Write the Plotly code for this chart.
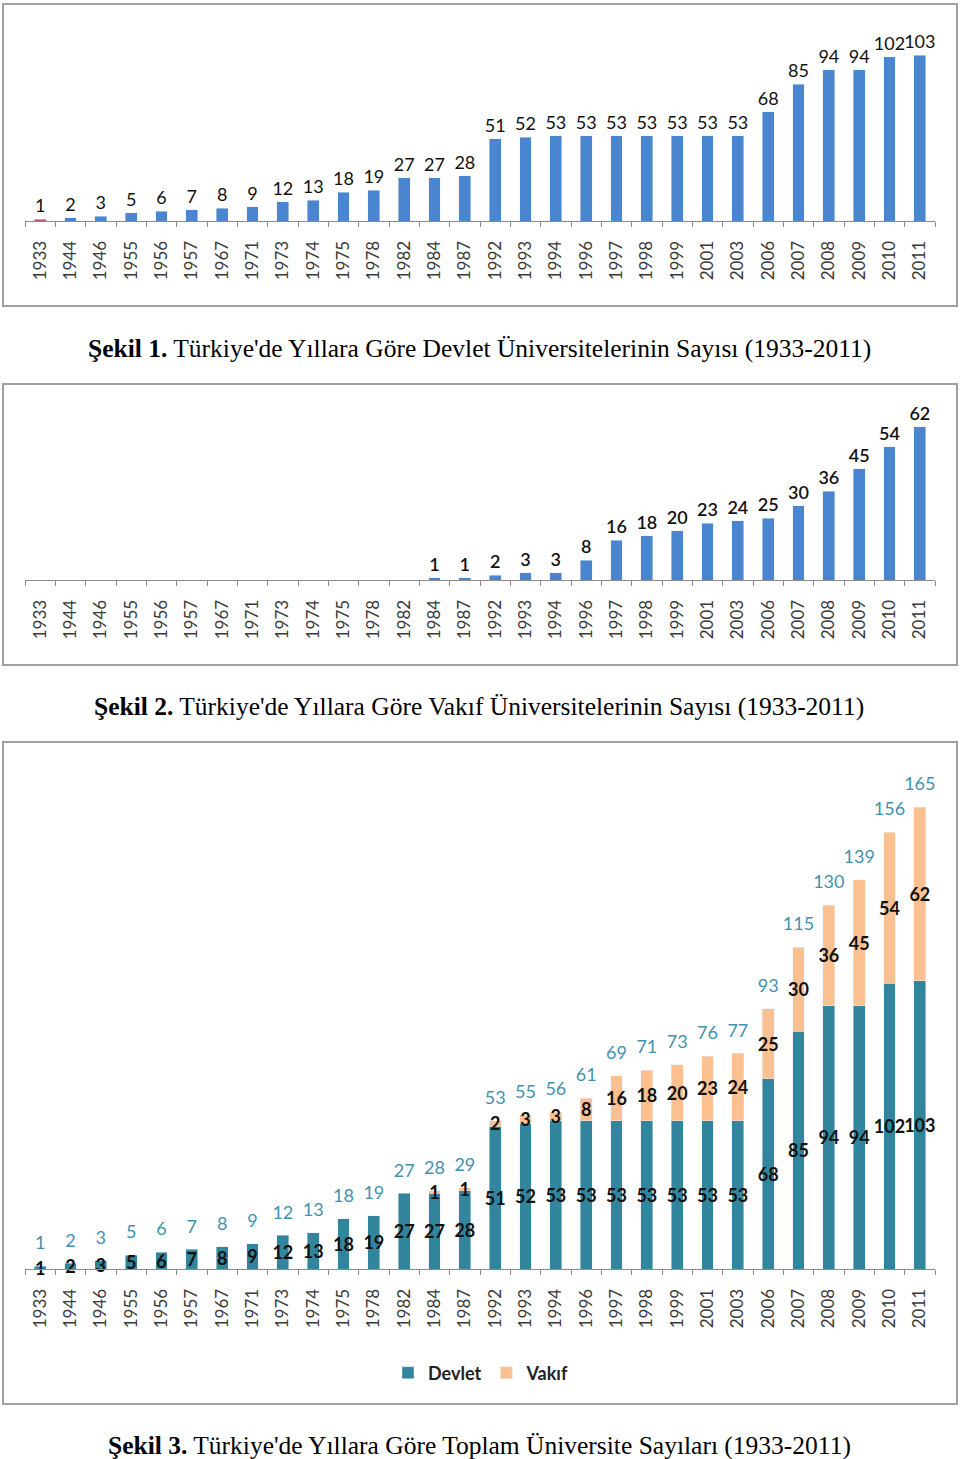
import plotly.graph_objects as go

# ---------------- data ----------------
years = ["1933", "1944", "1946", "1955", "1956", "1957", "1967", "1971", "1973", "1974",
         "1975", "1978", "1982", "1984", "1987", "1992", "1993", "1994", "1996", "1997",
         "1998", "1999", "2001", "2003", "2006", "2007", "2008", "2009", "2010", "2011"]
devlet = [1, 2, 3, 5, 6, 7, 8, 9, 12, 13, 18, 19, 27, 27, 28, 51, 52, 53, 53, 53,
          53, 53, 53, 53, 68, 85, 94, 94, 102, 103]
vakif = [None] * 13 + [1, 1, 2, 3, 3, 8, 16, 18, 20, 23, 24, 25, 30, 36, 45, 54, 62]
toplam = [d + (v or 0) for d, v in zip(devlet, vakif)]

captions = [
    ("Şekil 1.", "Türkiye'de Yıllara Göre Devlet Üniversitelerinin Sayısı (1933-2011)"),
    ("Şekil 2.", "Türkiye'de Yıllara Göre Vakıf Üniversitelerinin Sayısı (1933-2011)"),
    ("Şekil 3.", "Türkiye'de Yıllara Göre Toplam Üniversite Sayıları (1933-2011)"),
]

# ---------------- layout helpers ----------------
W, H = 960, 1459


def py(y):
    return 1 - y / H


def px(x):
    return x / W


BLUE = "#4A86D0"
RED = "#C0504D"
TEAL = "#31859C"
PEACH = "#FAC090"
TOTAL_TXT = "#3F93AE"
FONT = "Lato"

fig = go.Figure()

# Panel 1
fig.add_trace(go.Bar(
    x=years, y=devlet, xaxis="x", yaxis="y", showlegend=False,
    marker_color=[RED] + [BLUE] * (len(years) - 1),
    text=devlet, textposition="outside", cliponaxis=False, textangle=0,
    textfont=dict(family=FONT, size=18, color="#111111"),
))

# Panel 2
fig.add_trace(go.Bar(
    x=years, y=vakif, xaxis="x2", yaxis="y2", showlegend=False,
    marker_color=BLUE,
    text=[("" if v is None else v) for v in vakif], textposition="outside",
    cliponaxis=False, textangle=0,
    textfont=dict(family=FONT, size=18, color="#111111", weight=600),
))

# Panel 3
fig.add_trace(go.Bar(
    x=years, y=devlet, xaxis="x3", yaxis="y3", name="Devlet",
    marker_color=TEAL, text=devlet, textposition="inside",
    insidetextanchor="middle", textangle=0, cliponaxis=False,
    textfont=dict(family=FONT, size=18, color="#111111", weight="bold"),
))
fig.add_trace(go.Bar(
    x=years, y=vakif, xaxis="x3", yaxis="y3", name="Vakıf",
    marker_color=PEACH, text=[("" if v is None else v) for v in vakif],
    textposition="inside", insidetextanchor="middle", textangle=0,
    cliponaxis=False,
    textfont=dict(family=FONT, size=18, color="#111111", weight="bold"),
))
fig.add_trace(go.Scatter(
    x=years, y=toplam, xaxis="x3", yaxis="y3", showlegend=False,
    mode="markers+text", marker=dict(size=18, opacity=0),
    text=toplam, textposition="top center", cliponaxis=False,
    textfont=dict(family=FONT, size=18, color=TOTAL_TXT),
    hoverinfo="skip",
))

xdom = [px(25), px(935)]
xcommon = dict(
    type="category", domain=xdom, range=[-0.5, len(years) - 0.5],
    showline=True, linecolor="#8C8C8C", linewidth=1,
    ticks="outside", ticklen=5, tickcolor="#8C8C8C", tickson="boundaries",
    tickangle=-90, ticklabelstandoff=12,
    tickfont=dict(family=FONT, size=17, color="#3A3A3A"),
    showgrid=False, zeroline=False, fixedrange=True,
)

# panel geometry: (axis pixel y, px per unit, max)
p1 = (221, 1.61, 120)
p2 = (580, 2.47, 70)
p3 = (1269, 2.80, 180)


def ydom(p):
    base, k, m = p
    return [py(base), py(base - k * m)]


fig.update_layout(
    width=W, height=H,
    margin=dict(l=0, r=0, t=0, b=0),
    paper_bgcolor="white", plot_bgcolor="white",
    barmode="stack", bargap=0.615,
    uniformtext=dict(mode="show", minsize=18),
    xaxis=dict(anchor="y", **xcommon),
    xaxis2=dict(anchor="y2", **xcommon),
    xaxis3=dict(anchor="y3", **xcommon),
    yaxis=dict(anchor="x", domain=ydom(p1), range=[0, p1[2]], visible=False, fixedrange=True),
    yaxis2=dict(anchor="x2", domain=ydom(p2), range=[0, p2[2]], visible=False, fixedrange=True),
    yaxis3=dict(anchor="x3", domain=ydom(p3), range=[0, p3[2]], visible=False, fixedrange=True),
    legend=dict(
        orientation="h", x=px(481), xanchor="center", y=py(1373), yanchor="middle",
        font=dict(family=FONT, size=18, color="#222222", weight="bold"),
        itemwidth=30, bgcolor="rgba(0,0,0,0)", traceorder="normal",
    ),
    showlegend=True,
)

# panel frames
for (x0, y0, x1, y1) in [(3, 4, 957, 306), (3, 384, 957, 665), (3, 742, 957, 1404)]:
    fig.add_shape(type="rect", xref="paper", yref="paper",
                  x0=px(x0), x1=px(x1), y0=py(y1), y1=py(y0),
                  line=dict(color="#A0A0A0", width=2), fillcolor="rgba(0,0,0,0)",
                  layer="below")

# captions
for (bold, rest), yc in zip(captions, [348, 706, 1445]):
    fig.add_annotation(
        xref="paper", yref="paper", x=px(479), y=py(yc), xanchor="center", yanchor="middle",
        text=f"<b>{bold}</b> {rest}", showarrow=False,
        font=dict(family="Liberation Serif", size=25.5, color="black"),
    )

fig.write_html("out.html", config={"displayModeBar": False},
               post_script="document.body.style.margin='0';")
